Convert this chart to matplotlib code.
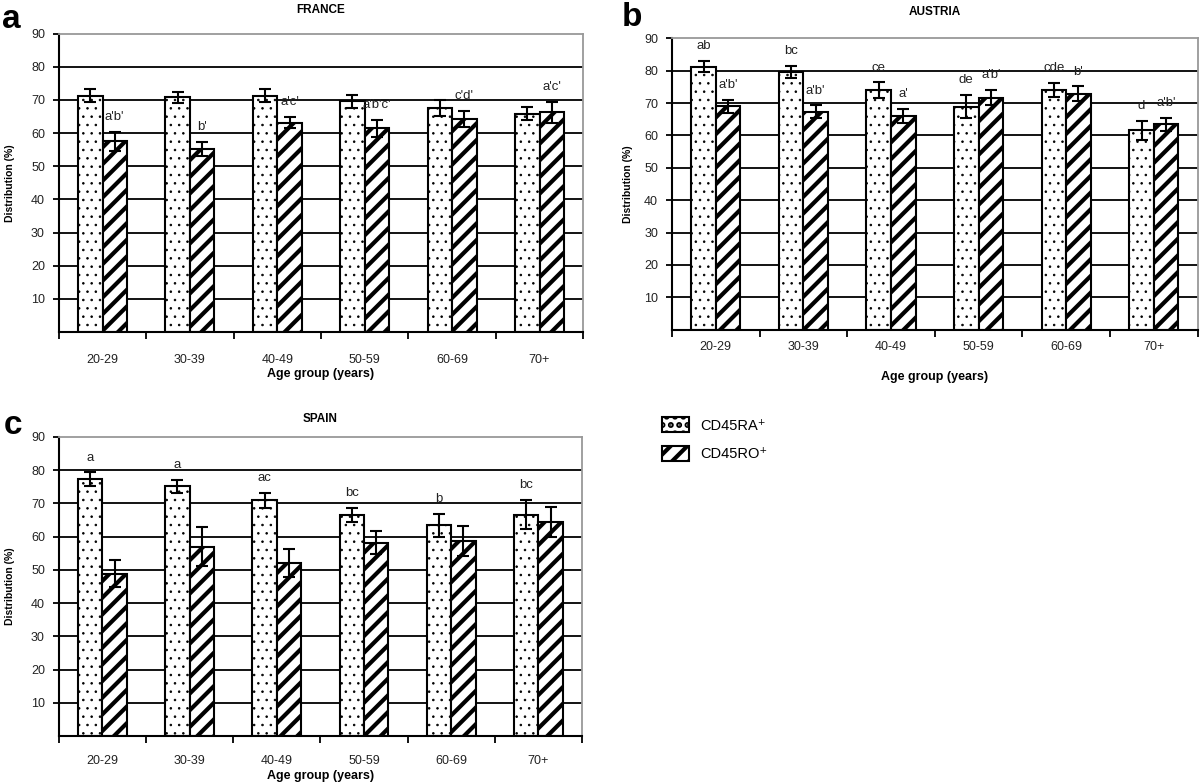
import numpy as np
import matplotlib
matplotlib.use('Agg')
import matplotlib.pyplot as plt
from matplotlib.patches import Patch

plt.rcParams['font.family'] = ['Liberation Sans', 'DejaVu Sans']

# Daten
groups = ['20-29', '30-39', '40-49', '50-59', '60-69', '70+']

france_ra = [71.3, 70.8, 71.3, 69.6, 67.5, 65.9]
france_ra_err = [2.0, 1.7, 2.0, 2.0, 2.4, 1.9]
france_ro = [57.5, 55.2, 63.1, 61.4, 64.3, 66.3]
france_ro_err = [2.8, 2.0, 1.7, 2.7, 2.4, 3.2]
france_ra_lab = ['', '', '', '', '', '']
france_ro_lab = ["a'b'", "b'", "a'c'", "a'b'c'", "c'd'", "a'c'"]

austria_ra = [81.3, 79.7, 74.0, 68.9, 74.0, 61.6]
austria_ra_err = [1.7, 1.9, 2.4, 3.6, 2.2, 2.9]
austria_ro = [69.0, 67.3, 66.0, 71.7, 72.9, 63.4]
austria_ro_err = [2.0, 2.0, 2.2, 2.4, 2.3, 2.1]
austria_ra_lab = ['ab', 'bc', 'ce', 'de', 'cde', 'd']
austria_ro_lab = ["a'b'", "a'b'", "a'", "a'b'", "b'", "a'b'"]

spain_ra = [77.3, 75.1, 70.9, 66.6, 63.4, 66.6]
spain_ra_err = [2.0, 1.9, 2.2, 2.1, 3.5, 4.3]
spain_ro = [48.9, 57.0, 52.1, 58.2, 58.7, 64.4]
spain_ro_err = [4.1, 5.9, 4.3, 3.4, 4.5, 4.6]
spain_ra_lab = ['a', 'a', 'ac', 'bc', 'b', 'bc']
spain_ro_lab = ['', '', '', '', '', '']


def panel(ax, title, ra, ra_err, ro, ro_err, ra_lab, ro_lab,
          xpad, xlpad, ylpad, tpad):
    x = np.arange(len(groups))
    w = 0.28
    for v in range(10, 90, 10):
        ax.axhline(v, color='black', lw=1.3, zorder=0)
    plt.rcParams['hatch.linewidth'] = 0.6
    ax.bar(x - w / 2, ra, w, color='white', edgecolor='black', lw=1.5,
           hatch='..', zorder=2)
    plt.rcParams['hatch.linewidth'] = 3.0
    ax.bar(x + w / 2, ro, w, color='white', edgecolor='black', lw=1.5,
           hatch='//', zorder=2)
    ax.errorbar(x - w / 2, ra, yerr=ra_err, fmt='none', ecolor='black',
                elinewidth=1.5, capsize=4, capthick=1.5, zorder=3)
    ax.errorbar(x + w / 2, ro, yerr=ro_err, fmt='none', ecolor='black',
                elinewidth=1.5, capsize=4, capthick=1.5, zorder=3)
    for i in range(len(groups)):
        if ra_lab[i]:
            ax.text(x[i] - w / 2, ra[i] + ra_err[i] + 4.5, ra_lab[i],
                    ha='center', va='center', fontsize=9.5, color='#222222')
        if ro_lab[i]:
            ax.text(x[i] + w / 2, ro[i] + ro_err[i] + 4.5, ro_lab[i],
                    ha='center', va='center', fontsize=9.5, color='#222222')

    ax.set_xlim(-0.5, len(groups) - 0.5)
    ax.set_ylim(0, 90)
    ax.set_yticks(range(10, 100, 10))
    ax.tick_params(axis='y', length=4, width=1.3, pad=6, labelsize=9,
                   labelcolor='#222222')
    ax.set_xticks(x)
    ax.set_xticklabels(groups)
    ax.set_xticks(np.arange(-0.5, len(groups), 1.0), minor=True)
    ax.tick_params(axis='x', which='major', length=0, pad=xpad, labelsize=9,
                   labelcolor='#222222')
    ax.tick_params(axis='x', which='minor', length=5, width=1.3)
    for s in ['left', 'bottom']:
        ax.spines[s].set_linewidth(1.5)
    for s in ['top', 'right']:
        ax.spines[s].set_color('#999999')
        ax.spines[s].set_linewidth(1.3)
    ax.set_title(title, fontsize=8.5, fontweight='bold', pad=tpad)
    ax.set_ylabel('Distribution (%)', fontsize=7.5, fontweight='bold', labelpad=ylpad)
    ax.set_xlabel('Age group (years)', fontsize=9, fontweight='bold', labelpad=xlpad)


fig = plt.figure(figsize=(12, 7.83), dpi=100)
ax_a = fig.add_axes([0.049, 0.576, 0.437, 0.381])
ax_b = fig.add_axes([0.560, 0.579, 0.438, 0.372])
ax_c = fig.add_axes([0.049, 0.060, 0.436, 0.382])

panel(ax_a, 'FRANCE', france_ra, france_ra_err, france_ro, france_ro_err,
      france_ra_lab, france_ro_lab, 16, 1, 11.5, 15)
panel(ax_b, 'AUSTRIA', austria_ra, austria_ra_err, austria_ro, austria_ro_err,
      austria_ra_lab, austria_ro_lab, 8, 13, 8, 17)
panel(ax_c, 'SPAIN', spain_ra, spain_ra_err, spain_ro, spain_ro_err,
      spain_ra_lab, spain_ro_lab, 14, 2, 11.5, 11)

fig.text(0.002, 0.975, 'a', fontsize=24, fontweight='bold', va='center')
fig.text(0.518, 0.978, 'b', fontsize=24, fontweight='bold', va='center')
fig.text(0.003, 0.456, 'c', fontsize=24, fontweight='bold', va='center')

plt.rcParams['hatch.linewidth'] = 0.6
h1 = Patch(facecolor='white', edgecolor='black', hatch='..', lw=1.5)
plt.rcParams['hatch.linewidth'] = 3.0
h2 = Patch(facecolor='white', edgecolor='black', hatch='//', lw=1.5)
fig.legend([h1, h2], ['CD45RA\u207a', 'CD45RO\u207a'], loc='upper left',
           bbox_to_anchor=(0.541, 0.484), frameon=False, fontsize=10.5,
           handlelength=1.8, handleheight=1.2, labelspacing=0.9)

fig.savefig('out.png', dpi=100)
